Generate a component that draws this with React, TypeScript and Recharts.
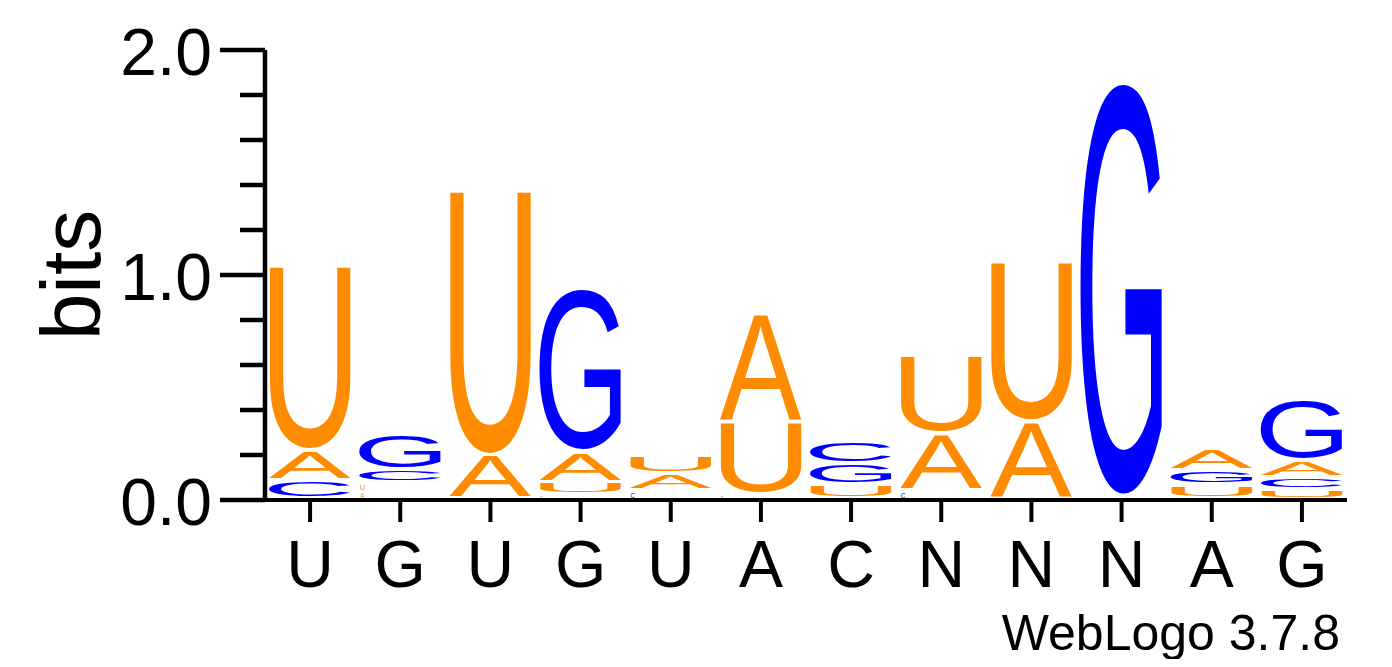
import React from 'react';
import { BarChart, Bar, XAxis, YAxis } from 'recharts';

// ---- data (bits per nucleotide per position) ----
const positions = [1, 2, 3, 4, 5, 6, 7, 8, 9, 10, 11, 12];
const consensus = ['U', 'G', 'U', 'G', 'U', 'A', 'C', 'N', 'N', 'N', 'A', 'G'];
const bitsA = [0.133, 0.035, 0.191, 0.133, 0.075, 0.48, 0, 0.253, 0.342, 0, 0.098, 0.076];
const bitsC = [0.08, 0.058, 0, 0.02, 0.035, 0.02, 0.098, 0.035, 0, 0, 0, 0.049];
const bitsG = [0, 0.156, 0, 0.724, 0, 0, 0.093, 0, 0, 1.839, 0.064, 0.271];
const bitsU = [0.822, 0.036, 1.178, 0.053, 0.078, 0.322, 0.062, 0.347, 0.711, 0.01, 0.06, 0.044];
const yTicks = [0, 0.2, 0.4, 0.6, 0.8, 1.0, 1.2, 1.4, 1.6, 1.8, 2.0];
const yLabel = 'bits';
const footer = 'WebLogo 3.7.8';

const letterColors: Record<string, string> = { A: '#FF8C00', C: '#0000FF', G: '#0000FF', U: '#FF8C00' };
const FONT = "'Liberation Sans', Arial, Helvetica, sans-serif";

const letters = ['A', 'C', 'G', 'U'];
const bitsByLetter: Record<string, number[]> = { A: bitsA, C: bitsC, G: bitsG, U: bitsU };
const MAX_RANK = 4;

const data = positions.map((p, i) => {
  const stack = letters
    .map((l) => ({ l, v: bitsByLetter[l][i] }))
    .filter((s) => s.v > 0)
    .sort((a, b) => a.v - b.v);
  const row: any = { pos: p };
  stack.forEach((s, k) => {
    row['r' + k] = s.v;
    row['l' + k] = s.l;
  });
  return row;
});

// ---- glyph ink metrics (measured once through canvas, with Arial fallbacks) ----
const fallbackMetrics: Record<string, { l: number; r: number; asc: number; desc: number }> = {
  A: { l: -0.15, r: 66.85, asc: 71.58, desc: 0 },
  C: { l: 5.08, r: 67.72, asc: 72.8, desc: 1.22 },
  G: { l: 5.62, r: 71.48, asc: 72.8, desc: 1.22 },
  U: { l: 7.86, r: 64.16, asc: 71.58, desc: 1.22 },
};
const metricCache: Record<string, { l: number; r: number; asc: number; desc: number }> = {};
function getMetrics(letter: string) {
  if (metricCache[letter]) return metricCache[letter];
  let m = fallbackMetrics[letter] || fallbackMetrics.A;
  try {
    const c = document.createElement('canvas');
    const ctx = c.getContext('2d');
    if (ctx) {
      ctx.font = "100px 'Liberation Sans'";
      const t = ctx.measureText(letter);
      const l = -t.actualBoundingBoxLeft;
      const r = t.actualBoundingBoxRight;
      const asc = t.actualBoundingBoxAscent;
      const desc = t.actualBoundingBoxDescent;
      if (r - l > 10 && asc + desc > 10) m = { l, r, asc, desc };
    }
  } catch (e) {
    /* keep fallback */
  }
  metricCache[letter] = m;
  return m;
}

function Glyph({ letter, x, y, w, h }: { letter: string; x: number; y: number; w: number; h: number }) {
  const m = getMetrics(letter);
  const sx = w / (m.r - m.l);
  const sy = h / (m.asc + m.desc);
  return (
    <text
      x={0}
      y={0}
      fontSize={100}
      fontFamily={FONT}
      fill={letterColors[letter]}
      transform={`translate(${x} ${y}) scale(${sx} ${sy}) translate(${-m.l} ${m.asc})`}
    >
      {letter}
    </text>
  );
}

function LetterMark(props: any) {
  const { x, y, width, height, letter } = props;
  if (!letter || !(height > 0) || !(width > 0)) return <g />;
  if (height < 9.5) {
    const gh = Math.max(1, height * 0.6);
    const gw = gh * 0.9;
    const bottom = y + height - height * 0.2;
    return (
      <g>
        <Glyph letter={letter} x={x + 1} y={bottom - gh} w={gw} h={gh} />
      </g>
    );
  }
  const gap = Math.min(4, height * 0.3);
  return (
    <g>
      <Glyph letter={letter} x={x} y={y} w={width} h={height - gap} />
    </g>
  );
}

function YTick(props: any) {
  const { x, y, payload } = props;
  const v = payload.value;
  const major = Math.abs(v - Math.round(v)) < 1e-6;
  return (
    <g>
      <line x1={x - (major ? 45 : 25)} x2={x} y1={y} y2={y} stroke="#000" strokeWidth={4.5} />
      {major && (
        <text x={x - 53} y={y} dy="0.38em" textAnchor="end" fontSize={66} fontFamily={FONT} fill="#000">
          {v.toFixed(1)}
        </text>
      )}
    </g>
  );
}

function BitsLabel(props: any) {
  const vb = props.viewBox || { x: 0, y: 42, width: 257, height: 450 };
  const cx = 92;
  const cy = vb.y + vb.height / 2;
  return (
    <text x={cx} y={cy} transform={`rotate(-90 ${cx} ${cy})`} textAnchor="middle" fontSize={84} fontFamily={FONT} fill="#000">
      {yLabel}
    </text>
  );
}

function FooterLabel(props: any) {
  const vb = props.viewBox || { x: 257, y: 492, width: 1082, height: 100 };
  return (
    <text x={vb.x + vb.width - 7} y={vb.y + 150} textAnchor="end" fontSize={50} fontFamily={FONT} fill="#000">
      {footer}
    </text>
  );
}

export default function App() {
  return (
    <div style={{ width: 1384, height: 651, fontFamily: FONT }}>
      <BarChart
        width={1384}
        height={651}
        data={data}
        margin={{ top: 42, right: 45, bottom: 59, left: 0 }}
        barCategoryGap={4}
      >
        <XAxis
          dataKey="pos"
          type="category"
          interval={0}
          height={100}
          tickFormatter={(v: any) => consensus[positions.indexOf(Number(v))] ?? ''}
          axisLine={{ stroke: '#000', strokeWidth: 4 }}
          tickLine={{ stroke: '#000', strokeWidth: 4 }}
          tickSize={22}
          tickMargin={18}
          tick={{ fontSize: 66, fill: '#000', fontFamily: FONT }}
          label={{ content: FooterLabel } as any}
        />
        <YAxis
          type="number"
          domain={[0, 2]}
          ticks={yTicks}
          interval={0}
          width={257}
          allowDataOverflow
          axisLine={{ stroke: '#000', strokeWidth: 4.5 }}
          tickLine={false}
          tickSize={0}
          tickMargin={0}
          tick={<YTick />}
          label={{ content: BitsLabel } as any}
        />
        {Array.from({ length: MAX_RANK }, (_, k) => (
          <Bar
            key={k}
            dataKey={'r' + k}
            stackId="logo"
            barSize={82}
            isAnimationActive={false}
            shape={(p: any) => <LetterMark {...p} letter={p.payload ? p.payload['l' + k] : undefined} />}
          />
        ))}
      </BarChart>
    </div>
  );
}
